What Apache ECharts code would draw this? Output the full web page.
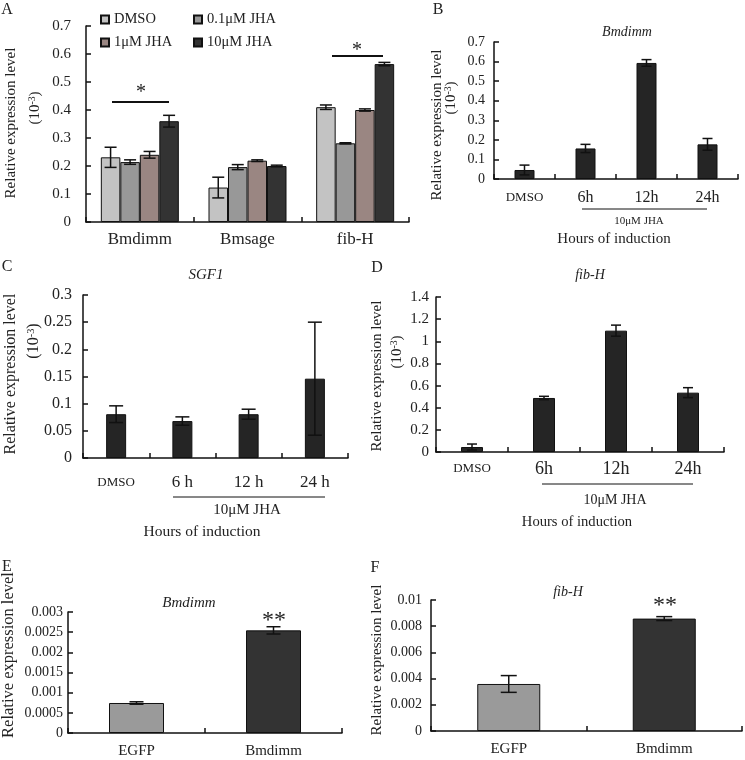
<!DOCTYPE html>
<html>
<head>
<meta charset="utf-8">
<script src="https://cdn.jsdelivr.net/npm/echarts@6/dist/echarts.min.js"></script>
<style>
html, body { margin: 0; padding: 0; background: #fff; }
#chart { width: 745px; height: 760px; }
</style>
</head>
<body>
<div id="chart"></div>
<script>
// ---- data ----
// A: three genes x four treatments
var genesA = ['Bmdimm', 'Bmsage', 'fib-H'];
var treatA = ['DMSO', '0.1μM JHA', '1μM JHA', '10μM JHA'];
var dmsoA = [0.231, 0.123, 0.410];
var jha01A = [0.214, 0.196, 0.281];
var jha1A = [0.240, 0.219, 0.400];
var jha10A = [0.360, 0.200, 0.564];
var dmsoErrA = [0.036, 0.037, 0.008];
var jha01ErrA = [0.008, 0.009, 0.002];
var jha1ErrA = [0.012, 0.003, 0.004];
var jha10ErrA = [0.021, 0.003, 0.006];

// B: Bmdimm time course
var timeB = ['DMSO', '6h', '12h', '24h'];
var valB = [0.046, 0.156, 0.593, 0.177];
var errB = [0.025, 0.021, 0.017, 0.030];

// C: SGF1 time course
var timeC = ['DMSO', '6 h', '12 h', '24 h'];
var valC = [0.0806, 0.068, 0.0806, 0.146];
var errC = [0.0154, 0.0077, 0.0092, 0.104];

// D: fib-H time course
var timeD = ['DMSO', '6h', '12h', '24h'];
var valD = [0.045, 0.488, 1.096, 0.536];
var errD = [0.027, 0.015, 0.05, 0.045];

// E / F: overexpression
var groupsEF = ['EGFP', 'Bmdimm'];
var valE = [0.000744, 0.002545];
var errE = [0.00003, 0.00009];
var valF = [0.00359, 0.00858];
var errF = [0.00064, 0.00015];

// ---- helpers ----
var FF = '"Liberation Serif", "Times New Roman", serif';
var INK = '#111';

function yAx(grid, max, interval, size, margin) {
    return {
        type: 'value', gridIndex: grid, min: 0, max: max, interval: interval,
        axisLine: { show: true, lineStyle: { color: INK, width: 1.5 } },
        axisTick: { show: true, inside: true, length: 5, lineStyle: { color: INK, width: 1.5 } },
        axisLabel: { fontFamily: FF, fontSize: size, color: '#222', margin: margin },
        splitLine: { show: false }
    };
}

function xAx(grid, cats, size, margin, small) {
    var ax = {
        type: 'category', gridIndex: grid, data: cats,
        axisLine: { show: true, lineStyle: { color: INK, width: 1.5 } },
        axisTick: { show: true, inside: true, length: 5, lineStyle: { color: INK, width: 1.5 } },
        axisLabel: { interval: 0, fontFamily: FF, fontSize: size, color: '#222',
            margin: margin, verticalAlign: 'middle' },
        splitLine: { show: false }
    };
    if (small) {
        ax.axisLabel.formatter = function(v) {
            return v === 'DMSO' ? '{s|' + v + '}' : '{b|' + v + '}';
        };
        ax.axisLabel.rich = {
            s: { fontFamily: FF, fontSize: small, color: '#222' },
            b: { fontFamily: FF, fontSize: size, color: '#222' }
        };
    }
    return ax;
}

function bars(grid, vals, color, width, name) {
    return {
        type: 'bar', name: name, xAxisIndex: grid, yAxisIndex: grid,
        barWidth: width, barGap: '0%', data: vals, silent: true,
        itemStyle: { color: color, borderColor: INK, borderWidth: 1 }
    };
}

function errSeries(grid, means, errs, offset, cap) {
    return {
        type: 'custom', xAxisIndex: grid, yAxisIndex: grid, z: 10, silent: true,
        data: means.map(function(m, i) { return [i, m, errs[i]]; }),
        renderItem: function(params, api) {
            var i = api.value(0), m = api.value(1), e = api.value(2);
            var top = api.coord([i, m + e]), bot = api.coord([i, m - e]);
            var x = top[0] + offset;
            var st = { stroke: INK, lineWidth: 1.5 };
            return { type: 'group', children: [
                { type: 'line', shape: { x1: x, y1: top[1], x2: x, y2: bot[1] }, style: st },
                { type: 'line', shape: { x1: x - cap / 2, y1: top[1], x2: x + cap / 2, y2: top[1] }, style: st },
                { type: 'line', shape: { x1: x - cap / 2, y1: bot[1], x2: x + cap / 2, y2: bot[1] }, style: st }
            ] };
        }
    };
}

function txt(x, y, s, size, italic) {
    return { type: 'text', x: x, y: y, silent: true,
        style: { text: s, fontFamily: FF, fontSize: size, fontStyle: italic ? 'italic' : 'normal',
            fill: '#222', align: 'center', verticalAlign: 'middle' } };
}

function vtxt(x, y, s, size) {
    var t = txt(x, y, s, size);
    t.rotation = Math.PI / 2;
    t.style.rich = { s: { fontFamily: FF, fontSize: size * 0.65, fill: '#222', verticalAlign: 'top', padding: [0, 0, 6, 0] } };
    return t;
}

function hline(x1, x2, y, w) {
    return { type: 'line', silent: true, shape: { x1: x1, y1: y, x2: x2, y2: y },
        style: { stroke: INK, lineWidth: w || 1 } };
}

var colorsA = ['#c3c3c3', '#989898', '#9a8682', '#333333'];
var bwA = 19.5;

var series = [
    bars(0, dmsoA, colorsA[0], bwA, treatA[0]),
    bars(0, jha01A, colorsA[1], bwA, treatA[1]),
    bars(0, jha1A, colorsA[2], bwA, treatA[2]),
    bars(0, jha10A, colorsA[3], bwA, treatA[3]),
    errSeries(0, dmsoA, dmsoErrA, -1.5 * bwA, 12),
    errSeries(0, jha01A, jha01ErrA, -0.5 * bwA, 12),
    errSeries(0, jha1A, jha1ErrA, 0.5 * bwA, 12),
    errSeries(0, jha10A, jha10ErrA, 1.5 * bwA, 12),
    bars(1, valB, '#252525', 20),
    errSeries(1, valB, errB, 0, 10),
    bars(2, valC, '#252525', 20),
    errSeries(2, valC, errC, 0, 14),
    bars(3, valD, '#252525', 22),
    errSeries(3, valD, errD, 0, 10),
    {
        type: 'bar', xAxisIndex: 4, yAxisIndex: 4, barWidth: 55, silent: true,
        data: valE.map(function(v, i) { return { value: v, itemStyle: { color: i ? '#333333' : '#9a9a9a' } }; }),
        itemStyle: { borderColor: INK, borderWidth: 1 }
    },
    errSeries(4, valE, errE, 0, 14),
    {
        type: 'bar', xAxisIndex: 5, yAxisIndex: 5, barWidth: 63, silent: true,
        data: valF.map(function(v, i) { return { value: v, itemStyle: { color: i ? '#333333' : '#9a9a9a' } }; }),
        itemStyle: { borderColor: INK, borderWidth: 1 }
    },
    errSeries(5, valF, errF, 0, 16)
];

var legendText = { fontFamily: FF, fontSize: 14.5, color: '#222', lineHeight: 15 };

var graphic = [
    // panel letters
    txt(7, 10, 'A', 16), txt(438, 10, 'B', 16), txt(7, 267, 'C', 16),
    txt(377, 268, 'D', 16), txt(7, 567, 'E', 16), txt(375, 568, 'F', 16),
    // gene titles
    txt(627, 32, 'Bmdimm', 14, true), txt(206, 275, 'SGF1', 15, true),
    txt(590, 275, 'fib-H', 14, true), txt(189, 603, 'Bmdimm', 15, true),
    txt(568, 592, 'fib-H', 14, true),
    // y-axis names
    vtxt(11, 123, 'Relative expression level', 15), vtxt(35, 108, '(10{s|-3})', 15),
    vtxt(437, 125, 'Relative expression level', 15), vtxt(451, 98, '(10{s|-3})', 15),
    vtxt(11, 374, 'Relative expression level', 16), vtxt(34, 341, '(10{s|-3})', 16),
    vtxt(377, 376, 'Relative expression level', 15), vtxt(397, 352, '(10{s|-3})', 15),
    vtxt(9, 655, 'Relative expression level', 16.5),
    vtxt(377, 660, 'Relative expression level', 15),
    // treatment bars
    hline(582, 707, 209), txt(639, 221, '10μM JHA', 11), txt(614, 239, 'Hours of induction', 15),
    hline(173, 325, 497), txt(247, 510, '10μM JHA', 15), txt(202, 532, 'Hours of induction', 15.5),
    hline(542, 693, 484), txt(615, 500, '10μM JHA', 14), txt(577, 522, 'Hours of induction', 14.6),
    // significance
    hline(112, 169, 102, 2), txt(141, 93, '*', 20),
    hline(332, 383, 56, 2), txt(357, 51, '*', 20),
    txt(274, 621, '**', 24), txt(665, 606, '**', 24)
];

var option = {
    backgroundColor: '#ffffff',
    animation: false,
    textStyle: { fontFamily: FF },
    grid: [
        { left: 86, top: 26, width: 323, height: 196, outerBoundsMode: 'none' },
        { left: 494, top: 42, width: 244, height: 137, outerBoundsMode: 'none' },
        { left: 83, top: 295, width: 265, height: 163, outerBoundsMode: 'none' },
        { left: 436, top: 297, width: 288, height: 155, outerBoundsMode: 'none' },
        { left: 68, top: 612, width: 274, height: 121, outerBoundsMode: 'none' },
        { left: 431, top: 600, width: 311, height: 131, outerBoundsMode: 'none' }
    ],
    xAxis: [
        xAx(0, genesA, 17, 18),
        xAx(1, timeB, 16, 19, 13),
        xAx(2, timeC, 17, 25, 13),
        xAx(3, timeD, 18, 17, 13),
        xAx(4, groupsEF, 15, 18),
        xAx(5, groupsEF, 15, 18)
    ],
    yAxis: [
        yAx(0, 0.7, 0.1, 15, 15),
        yAx(1, 0.7, 0.1, 14, 9),
        yAx(2, 0.3, 0.05, 16, 11),
        yAx(3, 1.4, 0.2, 15, 7),
        yAx(4, 0.003, 0.0005, 14, 5),
        yAx(5, 0.01, 0.002, 14, 9)
    ],
    legend: [
        { left: 100, top: 12, padding: 0, orient: 'vertical', itemGap: 8, itemWidth: 8, itemHeight: 8,
          icon: 'rect', selectedMode: false, data: [treatA[0], treatA[2]], textStyle: legendText },
        { left: 193, top: 12, padding: 0, orient: 'vertical', itemGap: 8, itemWidth: 8, itemHeight: 8,
          icon: 'rect', selectedMode: false, data: [treatA[1], treatA[3]], textStyle: legendText }
    ],
    graphic: graphic,
    series: series
};

var myChart = echarts.init(document.getElementById('chart'));
myChart.setOption(option);
</script>
</body>
</html>
